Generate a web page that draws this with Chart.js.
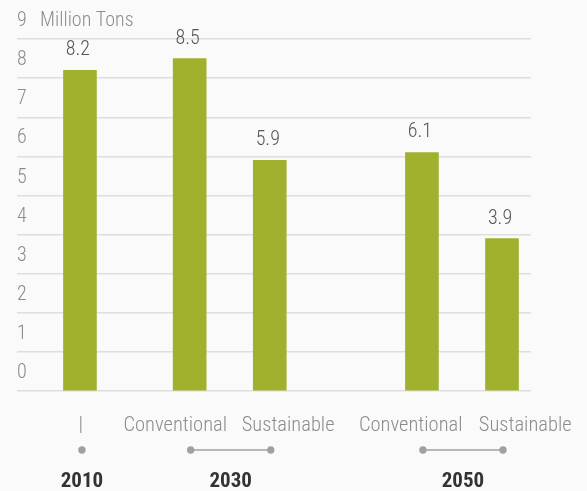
<!DOCTYPE html>
<html>
<head>
<meta charset="utf-8">
<script src="https://cdn.jsdelivr.net/npm/chart.js@4.4.1/dist/chart.umd.min.js"></script>
<style>
  html, body { margin: 0; padding: 0; background: #fafafa; }
  #wrap { width: 587px; height: 491px; }
</style>
</head>
<body>
<div id="wrap"><canvas id="grafica"></canvas></div>
<script>
// datos
const categorias = ['|', 'Conventional', 'Sustainable', 'Conventional', 'Sustainable'];
const valores = [8.2, 8.5, 5.9, 6.1, 3.9];
const posBarras = [0.63, 2, 3, 4.9, 5.9];          // posicion de cada barra en el eje x
const posEtiquetas = [0.64, 1.82, 3.23, 4.76, 6.19]; // centro de cada etiqueta de categoria
const anios = ['2010', '2030', '2050'];
const gruposAnio = [[0], [1, 2], [3, 4]];
const ticksY = [0, 1, 2, 3, 4, 5, 6, 7, 8, 9];
const unidad = 'Million Tons';

const fuente = "'Roboto Condensed', 'Roboto', sans-serif";
const verde = '#a1b12e';
const gris = '#8c8c8c';

const fondo = {
    id: 'fondo',
    beforeDraw(chart) {
        const c = chart.ctx;
        c.save();
        c.fillStyle = '#fafafa';
        c.fillRect(0, 0, chart.width, chart.height);
        c.restore();
    }
};

const extras = {
    id: 'extras',
    afterDatasetsDraw(chart) {
        const c = chart.ctx;
        const x = chart.scales.x;
        const y = chart.scales.y;
        const barras = chart.getDatasetMeta(0).data;
        c.save();

        // valores encima de las barras
        c.fillStyle = '#555';
        c.font = '300 20px ' + fuente;
        c.textAlign = 'center';
        c.textBaseline = 'bottom';
        barras.forEach((b, i) => {
            c.fillText(String(valores[i]), b.x - 2, b.y - 10);
        });

        // unidad junto al 9
        c.fillStyle = gris;
        c.textAlign = 'left';
        c.textBaseline = 'middle';
        c.font = '300 20px ' + fuente;
        c.fillText(unidad, chart.chartArea.left + 23, y.getPixelForValue(9) - 18);

        // puntos, lineas y anios
        const yPunto = chart.chartArea.bottom + 59;
        const yAnio = chart.chartArea.bottom + 91;
        gruposAnio.forEach((g, k) => {
            const xs = g.map(i => x.getPixelForValue(posBarras[i]) + (g.length === 1 ? 2 : 1));
            c.strokeStyle = '#a0a0a0';
            c.lineWidth = 1.5;
            if (xs.length > 1) {
                c.beginPath();
                c.moveTo(xs[0], yPunto);
                c.lineTo(xs[xs.length - 1], yPunto);
                c.stroke();
            }
            c.fillStyle = '#a0a0a0';
            xs.forEach(px => {
                c.beginPath();
                c.arc(px, yPunto, 3.7, 0, Math.PI * 2);
                c.fill();
            });
            const centro = xs.reduce((a, b) => a + b, 0) / xs.length;
            c.fillStyle = '#333';
            c.font = 'bold 21px ' + fuente;
            c.textAlign = 'center';
            c.textBaseline = 'middle';
            c.fillText(anios[k], centro, yAnio);
        });
        c.restore();
    }
};

const ctx = document.getElementById('grafica').getContext('2d');
new Chart(ctx, {
    type: 'bar',
    data: {
        datasets: [{
            data: valores.map((v, i) => ({ x: posBarras[i], y: v })),
            backgroundColor: verde,
            borderWidth: 0,
            barThickness: 33
        }]
    },
    options: {
        responsive: true,
        maintainAspectRatio: false,
        animation: false,
        layout: { padding: { left: 17, right: 56, top: 0, bottom: 0 } },
        plugins: {
            legend: { display: false },
            tooltip: { enabled: false }
        },
        scales: {
            x: {
                type: 'linear',
                offset: false,
                min: -0.156,
                max: 6.262,
                grid: { display: false, drawTicks: false },
                border: { display: false },
                afterBuildTicks: function (axis) {
                    axis.ticks = posEtiquetas.map(v => ({ value: v }));
                },
                afterFit: function (axis) {
                    axis.height = 100;
                    axis.paddingLeft = 0;
                    axis.paddingRight = 0;
                },
                ticks: {
                    autoSkip: false,
                    maxRotation: 0,
                    padding: 23,
                    color: gris,
                    font: { family: fuente, size: 20.5, weight: 300 },
                    callback: function (value, index) {
                        return categorias[index];
                    }
                }
            },
            y: {
                min: 0,
                max: 10,
                afterBuildTicks: function (axis) {
                    axis.ticks = ticksY.concat([10]).map(v => ({ value: v }));
                },
                afterFit: function (axis) {
                    axis.paddingTop = 0;
                    axis.paddingBottom = 0;
                },
                grid: {
                    drawTicks: false,
                    lineWidth: 1.5,
                    color: function (c) {
                        return c.tick && c.tick.value === 10 ? 'rgba(0,0,0,0)' : '#dedede';
                    }
                },
                border: { display: false },
                ticks: {
                    mirror: true,
                    padding: 0,
                    labelOffset: -18,
                    color: gris,
                    font: { family: fuente, size: 20, weight: 300 },
                    callback: function (value) {
                        return value === 10 ? '' : value;
                    }
                }
            }
        }
    },
    plugins: [fondo, extras]
});
</script>
</body>
</html>
